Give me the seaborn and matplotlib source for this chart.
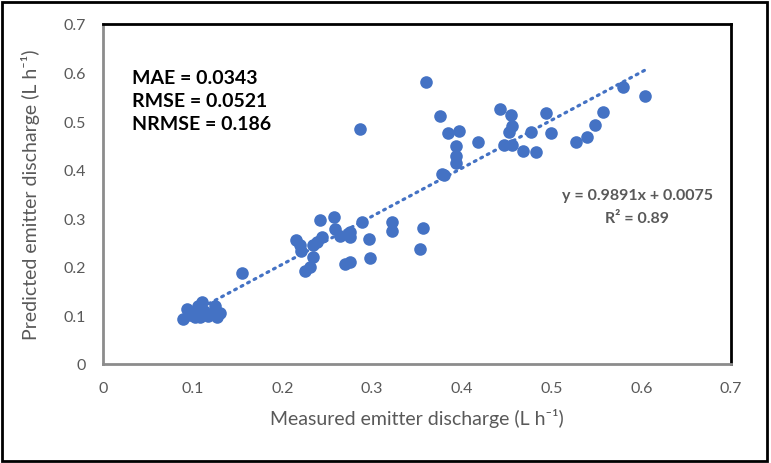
import numpy as np
import pandas as pd
import matplotlib
matplotlib.use('Agg')
import matplotlib.pyplot as plt
import seaborn as sns
from matplotlib.patches import Rectangle

# measured vs predicted emitter discharge (L h-1)
measured = [0.089, 0.094, 0.097, 0.100, 0.103, 0.106, 0.108, 0.110, 0.113, 0.117,
            0.120, 0.125, 0.127, 0.130, 0.155,
            0.215, 0.220, 0.221, 0.225, 0.231, 0.234, 0.234, 0.238, 0.242, 0.244,
            0.258, 0.259, 0.264, 0.270, 0.275, 0.275, 0.275, 0.289, 0.296, 0.298,
            0.322, 0.322, 0.353, 0.357, 0.287, 0.360,
            0.376, 0.378, 0.380, 0.384, 0.393, 0.394, 0.394, 0.397, 0.418, 0.443,
            0.447, 0.453, 0.455, 0.456, 0.456, 0.468, 0.477, 0.483, 0.494, 0.499,
            0.527, 0.539, 0.548, 0.557, 0.580, 0.604]
predicted = [0.093, 0.113, 0.100, 0.106, 0.097, 0.120, 0.096, 0.127, 0.110, 0.099,
             0.103, 0.120, 0.096, 0.106, 0.187,
             0.255, 0.244, 0.233, 0.192, 0.200, 0.245, 0.221, 0.252, 0.296, 0.262,
             0.302, 0.278, 0.264, 0.206, 0.271, 0.261, 0.211, 0.293, 0.257, 0.218,
             0.292, 0.274, 0.237, 0.281, 0.484, 0.580,
             0.511, 0.391, 0.390, 0.476, 0.429, 0.448, 0.414, 0.480, 0.458, 0.525,
             0.451, 0.478, 0.513, 0.491, 0.450, 0.439, 0.477, 0.436, 0.516, 0.476,
             0.458, 0.467, 0.492, 0.519, 0.571, 0.551]

slope = 0.9891
intercept = 0.0075
stats_text = ["MAE = 0.0343", "RMSE = 0.0521", "NRMSE = 0.186"]
eq_text = ["y = 0.9891x + 0.0075", "R\u00b2 = 0.89"]
ticks = [0, 0.1, 0.2, 0.3, 0.4, 0.5, 0.6, 0.7]

sns.set_theme(style='white')
plt.rcParams['font.family'] = ['Lato', 'DejaVu Sans']

df = pd.DataFrame({'Measured': measured, 'Predicted': predicted})
xfit = np.array([min(measured), max(measured)])
fit = pd.DataFrame({'x': xfit, 'y': slope * xfit + intercept})

fig = plt.figure(figsize=(7.71, 4.64), dpi=100)
ax = fig.add_axes([103 / 771, 1 - 365 / 464, 628 / 771, 340 / 464])

blue = '#4472C4'
grey = '#595959'

sns.lineplot(data=fit, x='x', y='y', ax=ax, color=blue, lw=2.3,
             linestyle=(0, (0.6, 1.7)), dash_capstyle='round', zorder=2)
sns.scatterplot(data=df, x='Measured', y='Predicted', ax=ax, color=blue,
                s=82, edgecolor=blue, linewidth=0, zorder=3)

ax.set_xlim(0, 0.7)
ax.set_ylim(0, 0.7)
ax.set_xticks(ticks)
ax.set_yticks(ticks)
ax.set_xticklabels([('%g' % t) for t in ticks])
ax.set_yticklabels([('%g' % t) for t in ticks])
ax.tick_params(length=0, labelsize=11.5, labelcolor=grey, pad=12)

for side in ['left', 'bottom']:
    ax.spines[side].set_color('#8c8c8c')
    ax.spines[side].set_linewidth(2)
for side in ['top', 'right']:
    ax.spines[side].set_color('black')
    ax.spines[side].set_linewidth(2)

ax.set_xlabel('Measured emitter discharge (L h\u207b\u00b9)', fontsize=14, color=grey)
ax.set_ylabel('Predicted emitter discharge (L h\u207b\u00b9)', fontsize=14, color=grey)
ax.xaxis.set_label_coords(0.5, -0.13)
ax.yaxis.set_label_coords(-0.1, 0.5)

for i, t in enumerate(stats_text):
    fig.text(132 / 771, 1 - (78 + 23.5 * i) / 464, t, fontsize=14,
             fontweight='bold', color='black', ha='left', va='center')

for i, t in enumerate(eq_text):
    fig.text(637 / 771, 1 - (196 + 23 * i) / 464, t, fontsize=11.5,
             fontweight='bold', color=grey, ha='center', va='center')

fig.patches.append(Rectangle((2 / 771, 2 / 464), 765 / 771, 459 / 464,
                             transform=fig.transFigure, fill=False,
                             edgecolor='black', linewidth=2))

fig.savefig('out.png', dpi=100)
